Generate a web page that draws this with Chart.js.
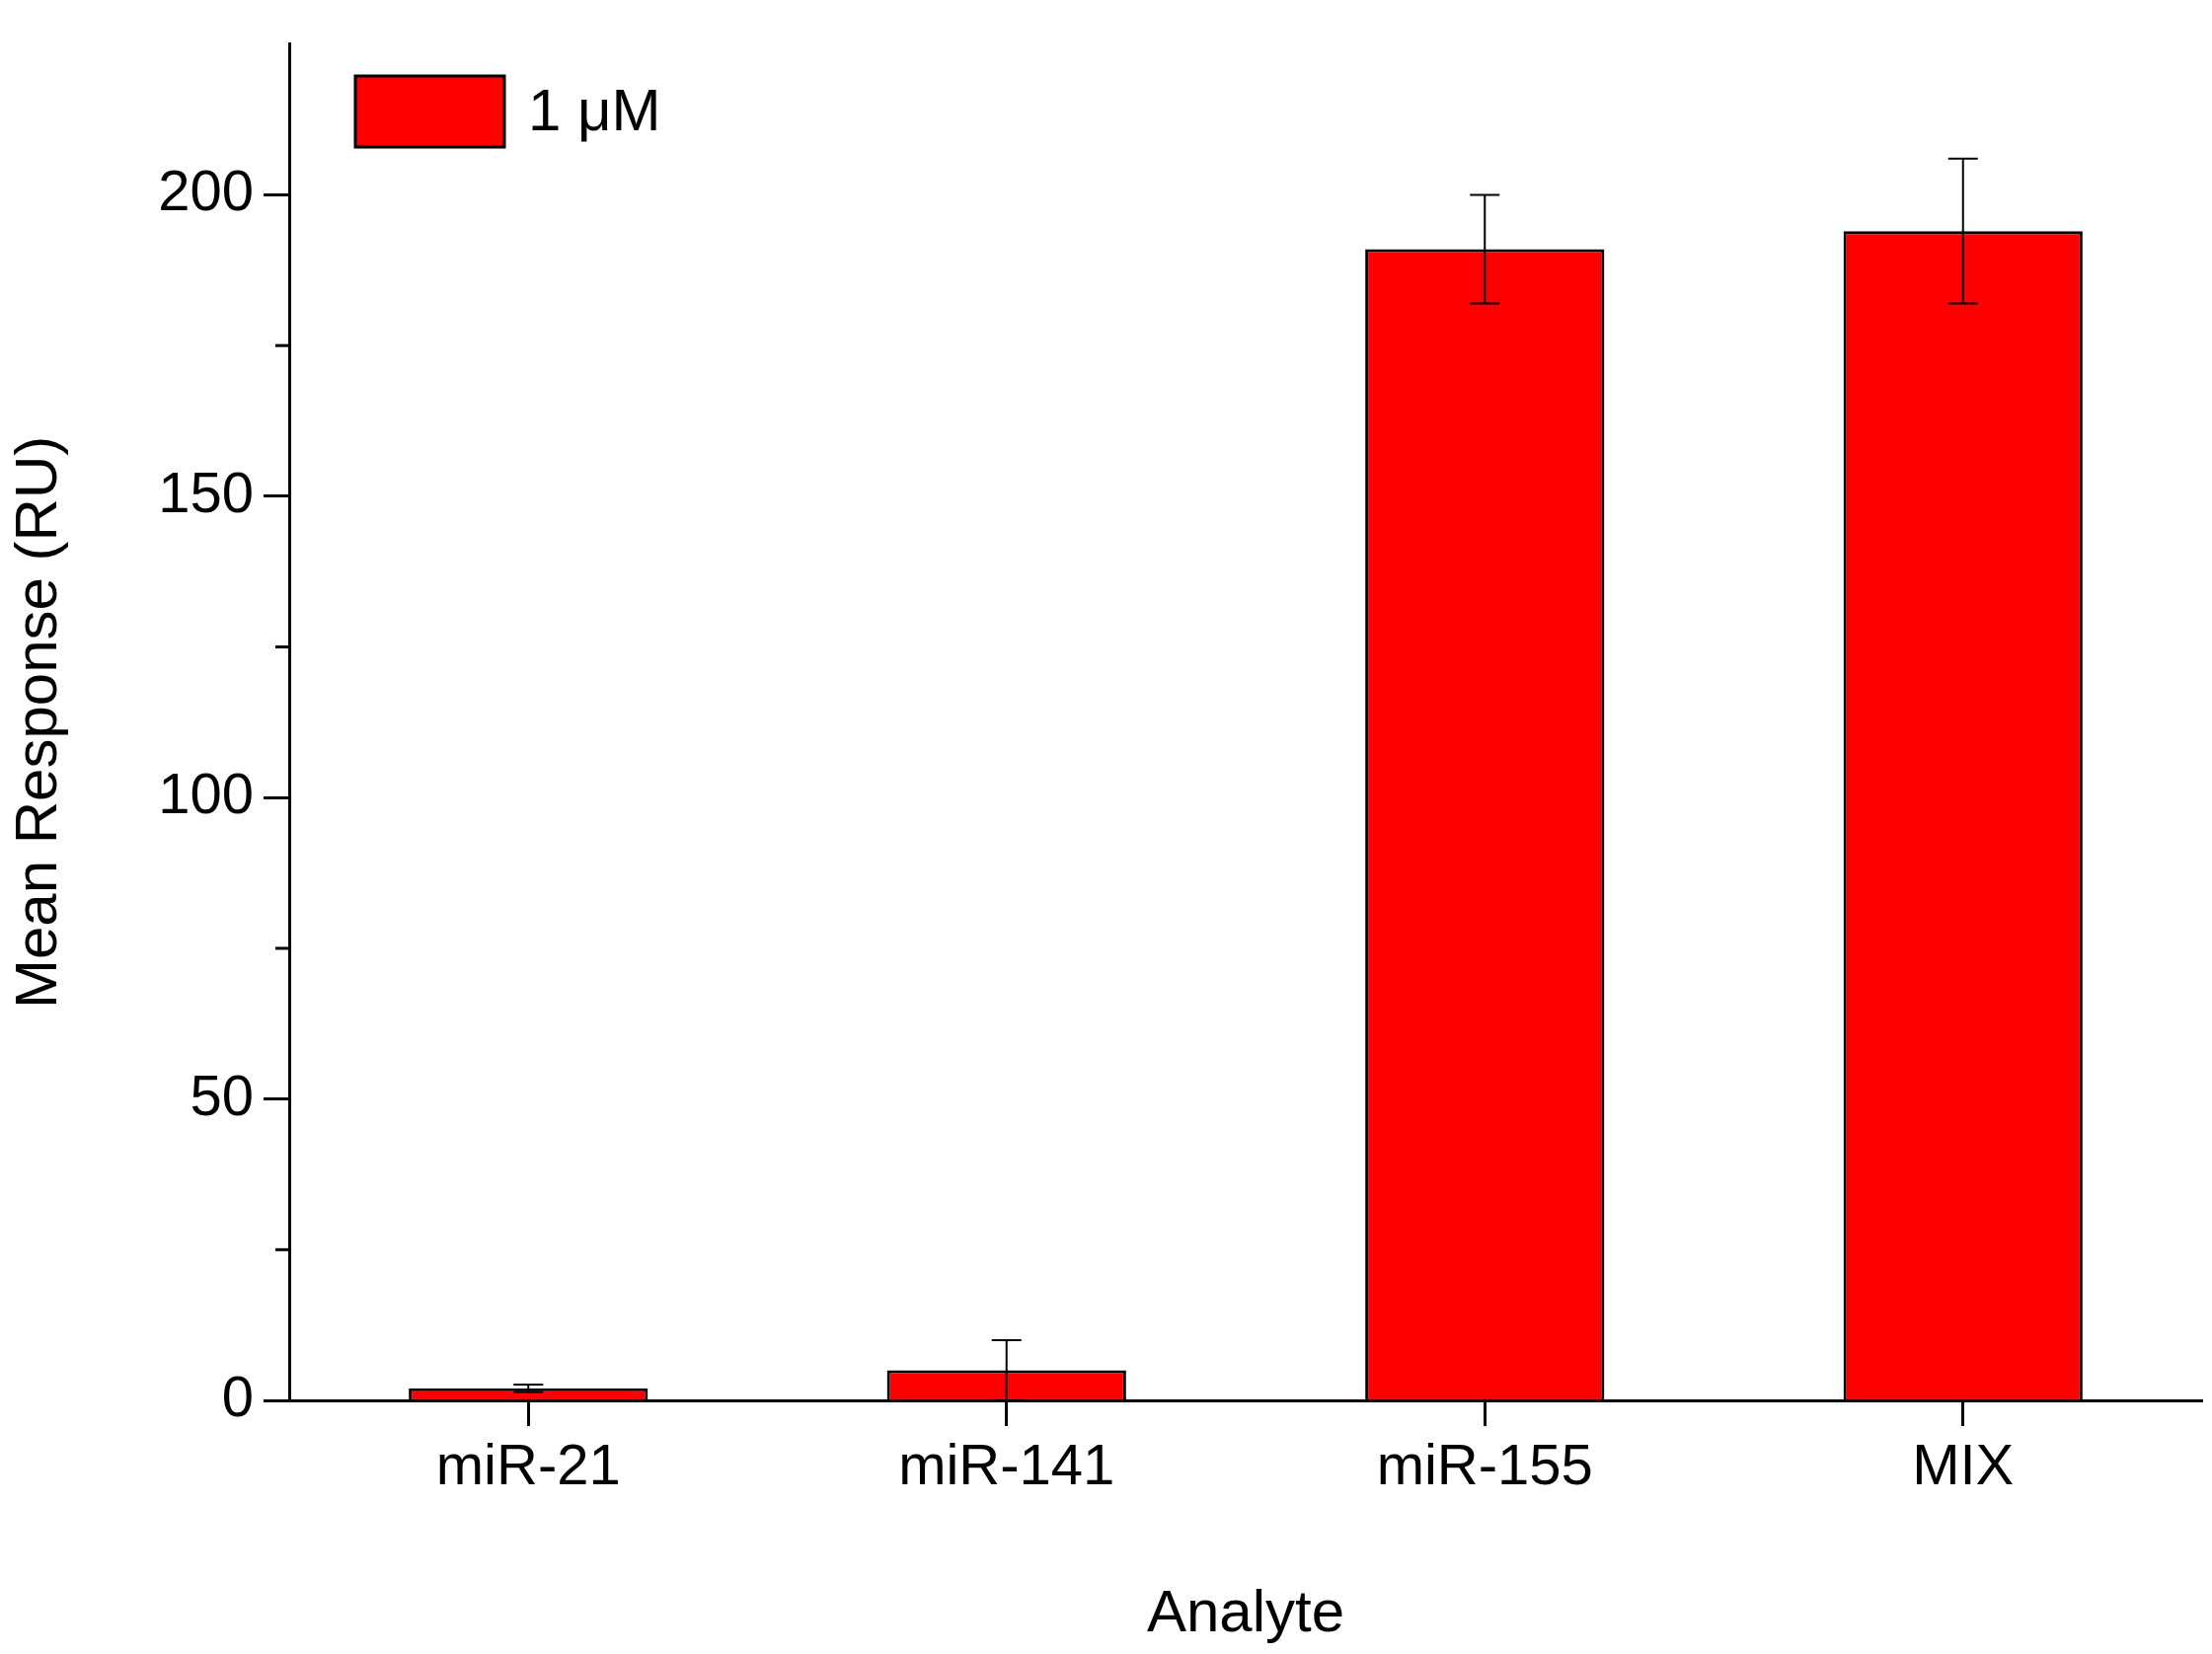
<!DOCTYPE html>
<html>
<head>
<meta charset="utf-8">
<script src="https://cdn.jsdelivr.net/npm/chart.js@4/dist/chart.umd.min.js"></script>
<style>
  html, body { margin: 0; padding: 0; background: #fff; }
  #graf { display: block; }
</style>
</head>
<body>
<canvas id="graf" width="2241" height="1676"></canvas>
<script>
// podatki
const kategorije = ['miR-21', 'miR-141', 'miR-155', 'MIX'];
const vrednosti = [2, 5, 191, 194];
const napake = [0.6, 5, 9, 12];
const glavne_oznake = [0, 50, 100, 150, 200];
const vmesne_oznake = [25, 75, 125, 175];
const oznaka_serije = '1 \u03bcM';

let pisava = 'Liberation Sans, Arial, sans-serif';
let crna = '#000';

const risalnik = {
    id: 'risalnik',
    afterDatasetsDraw(chart) {
        const ctx = chart.ctx;
        const x = chart.scales.x;
        const y = chart.scales.y;
        ctx.save();
        ctx.strokeStyle = crna;
        ctx.lineWidth = 2;
        // napake
        vrednosti.forEach((v, i) => {
            const cx = x.getPixelForValue(i);
            const yz = y.getPixelForValue(v + napake[i]);
            const ys = y.getPixelForValue(v - napake[i]);
            ctx.beginPath();
            ctx.moveTo(cx, yz); ctx.lineTo(cx, ys);
            ctx.moveTo(cx - 15, yz); ctx.lineTo(cx + 15, yz);
            ctx.moveTo(cx - 15, ys); ctx.lineTo(cx + 15, ys);
            ctx.stroke();
        });
        // vmesne oznake
        ctx.lineWidth = 3;
        vmesne_oznake.forEach(v => {
            const py = y.getPixelForValue(v);
            ctx.beginPath();
            ctx.moveTo(y.right - 14, py); ctx.lineTo(y.right, py);
            ctx.stroke();
        });
        // legenda
        ctx.fillStyle = 'rgb(255,0,0)';
        ctx.fillRect(360, 77, 151, 72);
        ctx.lineWidth = 3;
        ctx.strokeRect(360, 77, 151, 72);
        ctx.fillStyle = crna;
        ctx.font = '60px ' + pisava;
        ctx.textBaseline = 'middle';
        ctx.fillText(oznaka_serije, 535, 115);
        ctx.restore();
    }
};

const graf = new Chart(document.getElementById('graf').getContext('2d'), {
    type: 'bar',
    data: {
        labels: kategorije,
        datasets: [{
            label: oznaka_serije,
            data: vrednosti,
            backgroundColor: 'rgb(255,0,0)',
            borderColor: crna,
            borderWidth: 3,
            borderSkipped: 'bottom',
            categoryPercentage: 1,
            barPercentage: 0.5
        }]
    },
    plugins: [risalnik],
    options: {
        responsive: false,
        animation: false,
        devicePixelRatio: 1,
        layout: { padding: { top: 21, right: 10, left: 0, bottom: 0 } },
        plugins: { legend: { display: false }, tooltip: { enabled: false } },
        scales: {
            x: {
                afterFit(s) { s.height = 257; },
                grid: { offset: false, drawOnChartArea: false, tickLength: 26, tickWidth: 3, tickColor: crna },
                border: { color: crna, width: 3 },
                ticks: { color: crna, font: { size: 58, family: pisava }, padding: 8 },
                title: { display: true, text: 'Analyte', color: crna, font: { size: 60, family: pisava }, padding: { top: 20 } }
            },
            y: {
                min: 0,
                max: 225,
                afterFit(s) { s.width = 293; },
                afterBuildTicks(s) { s.ticks = glavne_oznake.map(v => ({ value: v })); },
                grid: { drawOnChartArea: false, tickLength: 26, tickWidth: 3, tickColor: crna },
                border: { color: crna, width: 3 },
                ticks: { color: crna, font: { size: 58, family: pisava }, padding: 10 },
                title: { display: true, text: 'Mean Response (RU)', color: crna, font: { size: 60, family: pisava }, padding: { bottom: 10 } }
            }
        }
    }
});
</script>
</body>
</html>
